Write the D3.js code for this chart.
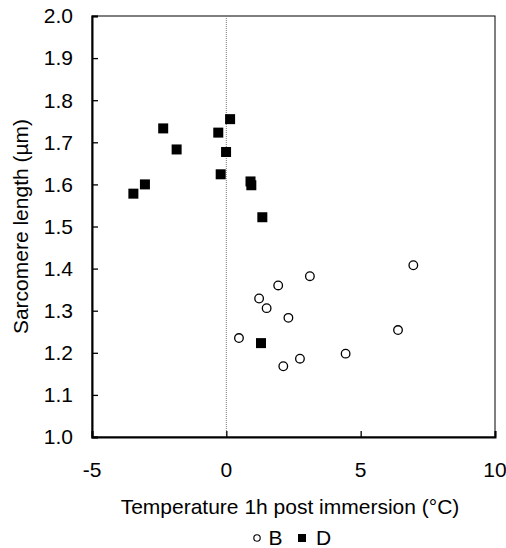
<!DOCTYPE html>
<html>
<head>
<meta charset="utf-8">
<script src="https://cdn.jsdelivr.net/npm/d3@7"></script>
<style>
  html, body { margin: 0; padding: 0; background: #fff; }
  svg { display: block; font-family: "Liberation Sans", Arial, sans-serif; }
</style>
</head>
<body>
<div id="chart"></div>
<script>
// series B (open circles): temperature °C, sarcomere length µm
const bTemp = [6.96, 3.11, 1.93, 1.22, 1.50, 2.31, 6.39, 0.47, 4.44, 2.74, 2.12];
const bLen  = [1.408, 1.382, 1.360, 1.329, 1.306, 1.283, 1.254, 1.235, 1.198, 1.186, 1.168];
// series D (filled squares)
const dTemp = [-3.46, -3.03, -2.35, -1.85, -0.30, 0.14, -0.01, -0.21, 0.90, 0.93, 1.34, 1.29];
const dLen  = [1.578, 1.600, 1.733, 1.683, 1.723, 1.755, 1.677, 1.624, 1.607, 1.598, 1.522, 1.223];

const xTicks = [-5, 0, 5, 10];
const yTicks = [1.0, 1.1, 1.2, 1.3, 1.4, 1.5, 1.6, 1.7, 1.8, 1.9, 2.0];

const W = 506, H = 548;
const m = { left: 92, right: 11, top: 16, bottom: 111 };
const fs = '21px';

const svg = d3.select('#chart').append('svg').attr('width', W).attr('height', H);

const x = d3.scaleLinear().domain([-5, 10]).range([m.left, W - m.right]);
const y = d3.scaleLinear().domain([1.0, 2.0]).range([H - m.bottom, m.top]);

// frame (top + right thin)
svg.append('rect')
  .attr('x', x(-5)).attr('y', y(2.0))
  .attr('width', x(10) - x(-5)).attr('height', y(1.0) - y(2.0))
  .attr('fill', 'none').attr('stroke', '#000').attr('stroke-width', 1);

// dotted zero line
svg.append('line')
  .attr('x1', x(0)).attr('x2', x(0)).attr('y1', y(2.0)).attr('y2', y(1.0))
  .attr('stroke', '#777').attr('stroke-width', 1).attr('stroke-dasharray', '1,1');

// axes with inward ticks
const yAxis = svg.append('g').attr('transform', `translate(${x(-5)},0)`)
  .call(d3.axisRight(y).tickValues(yTicks).tickSize(6).tickFormat(''));
const xAxis = svg.append('g').attr('transform', `translate(0,${y(1.0)})`)
  .call(d3.axisTop(x).tickValues(xTicks).tickSize(6).tickFormat(''));
[yAxis, xAxis].forEach(g => {
  g.select('.domain').attr('stroke', '#000').attr('stroke-width', 2);
  g.selectAll('.tick line').attr('stroke', '#000').attr('stroke-width', 1.3);
});

// tick labels
svg.append('g').selectAll('text').data(yTicks).join('text')
  .attr('x', x(-5) - 19).attr('y', d => y(d)).attr('dy', '0.35em')
  .attr('text-anchor', 'end').style('font-size', fs).text(d => d3.format('.1f')(d));
svg.append('g').selectAll('text').data(xTicks).join('text')
  .attr('x', d => x(d)).attr('y', y(1.0) + 33).attr('dy', '0.35em')
  .attr('text-anchor', 'middle').style('font-size', fs).text(d => d);

// axis titles
svg.append('text')
  .attr('transform', `translate(21,${(y(1.0) + y(2.0)) / 2}) rotate(-90)`)
  .attr('dy', '0.35em').attr('text-anchor', 'middle').style('font-size', fs)
  .text('Sarcomere length (µm)');
svg.append('text')
  .attr('x', 290).attr('y', 507).attr('dy', '0.35em')
  .attr('text-anchor', 'middle').style('font-size', fs)
  .text('Temperature 1h post immersion (°C)');

// series D
const sq = 10;
svg.append('g').selectAll('rect').data(dTemp.map((t, i) => [t, dLen[i]])).join('rect')
  .attr('x', d => x(d[0]) - sq / 2).attr('y', d => y(d[1]) - sq / 2)
  .attr('width', sq).attr('height', sq).attr('fill', '#000');

// series B
svg.append('g').selectAll('circle').data(bTemp.map((t, i) => [t, bLen[i]])).join('circle')
  .attr('cx', d => x(d[0])).attr('cy', d => y(d[1])).attr('r', 4.3)
  .attr('fill', '#fff').attr('stroke', '#000').attr('stroke-width', 1.3);

// legend
const lg = svg.append('g').attr('transform', 'translate(0,538)');
lg.append('circle').attr('cx', 257).attr('cy', 0).attr('r', 3.2)
  .attr('fill', '#fff').attr('stroke', '#000').attr('stroke-width', 1.1);
lg.append('text').attr('x', 268.5).attr('y', 0).attr('dy', '0.35em').style('font-size', fs).text('B');
lg.append('rect').attr('x', 298).attr('y', -4).attr('width', 8).attr('height', 8).attr('fill', '#000');
lg.append('text').attr('x', 316).attr('y', 0).attr('dy', '0.35em').style('font-size', fs).text('D');
</script>
</body>
</html>
